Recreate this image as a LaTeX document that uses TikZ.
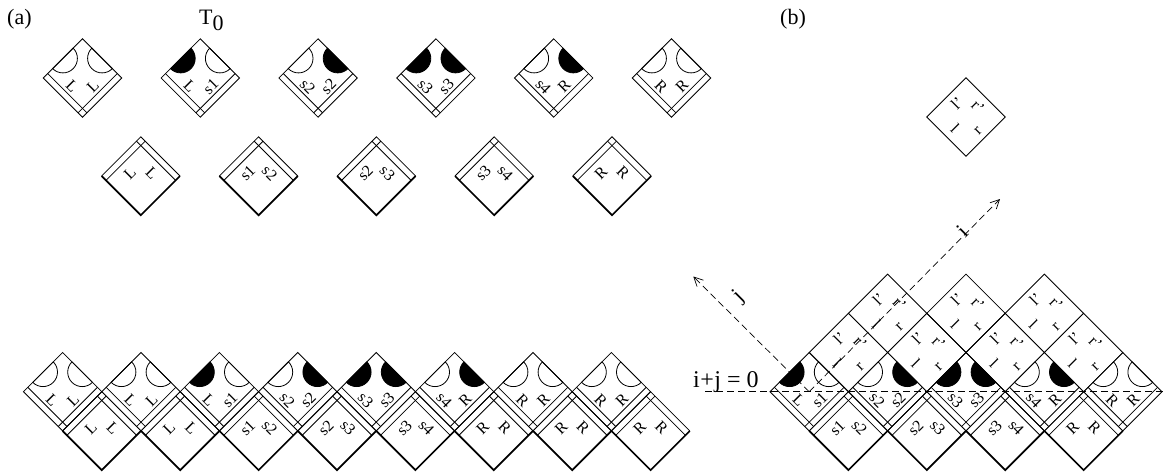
\documentclass[tikz,border=0pt]{standalone}
\usepackage{fontspec}
\setmainfont{Liberation Serif}
\usetikzlibrary{arrows.meta}
\newcommand{\halfd}{39.2}
\newcommand{\stripd}{4.4}
\newcommand{\semir}{14.5}
\tikzset{
  edge/.style={line width=0.8pt},
  thickedge/.style={line width=1.7pt},
  lab/.style={font=\fontsize{16}{16}\selectfont, inner sep=0pt},
  big/.style={font=\fontsize{22}{22}\selectfont, inner sep=0pt},
  axisline/.style={line width=0.7pt, dash pattern=on 7pt off 4pt},
}
% upper tile: cx cy leftfill rightfill leftlabel rightlabel
\newcommand{\utile}[6]{%
 \begin{scope}[shift={(#1,-#2)}]
  \filldraw[fill=#3,edge] ({-\halfd/2},{\halfd/2}) ++(45:\semir) arc[start angle=45,end angle=-135,radius=\semir] -- cycle;
  \filldraw[fill=#4,edge] ({\halfd/2},{\halfd/2}) ++(135:\semir) arc[start angle=135,end angle=315,radius=\semir] -- cycle;
  \draw[edge] (-\halfd,0) -- (0,\halfd) -- (\halfd,0) -- (0,-\halfd) -- cycle;
  \draw[edge] ({-\halfd+\stripd},\stripd) -- (\stripd,{-\halfd+\stripd});
  \draw[edge] (-\stripd,{-\halfd+\stripd}) -- ({\halfd-\stripd},\stripd);
  \node[lab,rotate=-45] at (-10.5,-8.5) {#5};
  \node[lab,rotate=45] at (10.5,-8.5) {#6};
 \end{scope}}
% lower tile: cx cy leftlabel rightlabel
\newcommand{\dtile}[4]{%
 \begin{scope}[shift={(#1,-#2)}]
  \draw[edge] (-\halfd,0) -- (0,\halfd) -- (\halfd,0);
  \draw[thickedge] (-\halfd,0) -- (0,-\halfd) -- (\halfd,0);
  \draw[edge] ({-\halfd+\stripd},-\stripd) -- (\stripd,{\halfd-\stripd});
  \draw[edge] (-\stripd,{\halfd-\stripd}) -- ({\halfd-\stripd},-\stripd);
  \node[lab,rotate=45] at (-11,3) {#3};
  \node[lab,rotate=-45] at (11,3) {#4};
 \end{scope}}
% plain tile: cx cy
\newcommand{\ptile}[2]{%
 \begin{scope}[shift={(#1,-#2)}]
  \draw[edge] (-\halfd,0) -- (0,\halfd) -- (\halfd,0) -- (0,-\halfd) -- cycle;
  \node[lab,rotate=45] at (-9,14) {l'};
  \node[lab,rotate=-45] at (12,10) {r'};
  \node[lab,rotate=-45] at (-11,-11) {l};
  \node[lab,rotate=45] at (12,-14) {r};
 \end{scope}}
\begin{document}
\begin{tikzpicture}[x=1pt,y=1pt]
\useasboundingbox (0,-474) rectangle (1167,0);
% labels
\node[big,anchor=base west] (la) at (7,-24) {(a)};
\node[big,anchor=base west] (lb) at (780,-24) {(b)};
\node[big,anchor=base west] (t0) at (199,-24) {T\raisebox{-6pt}{0}};
% (a) top row
\utile{82.5}{78}{white}{white}{L}{L}
\utile{200.3}{78}{black}{white}{L}{s1}
\utile{318.1}{78}{white}{black}{s2}{s2}
\utile{435.9}{78}{black}{black}{s3}{s3}
\utile{553.7}{78}{white}{black}{s4}{R}
\utile{671.5}{78}{white}{white}{R}{R}
% (a) second row
\dtile{140.8}{176}{L}{L}
\dtile{258.6}{176}{s1}{s2}
\dtile{376.4}{176}{s2}{s3}
\dtile{494.2}{176}{s3}{s4}
\dtile{612.0}{176}{R}{R}
% (a) bottom assembly
\utile{62.6}{391.7}{white}{white}{L}{L}
\utile{141.0}{391.7}{white}{white}{L}{L}
\utile{219.4}{391.7}{black}{white}{L}{s1}
\utile{297.8}{391.7}{white}{black}{s2}{s2}
\utile{376.2}{391.7}{black}{black}{s3}{s3}
\utile{454.6}{391.7}{white}{black}{s4}{R}
\utile{533.0}{391.7}{white}{white}{R}{R}
\utile{611.4}{391.7}{white}{white}{R}{R}
\dtile{101.8}{430.9}{L}{L}
\dtile{180.2}{430.9}{L}{L}
\dtile{258.6}{430.9}{s1}{s2}
\dtile{337.0}{430.9}{s2}{s3}
\dtile{415.4}{430.9}{s3}{s4}
\dtile{493.8}{430.9}{R}{R}
\dtile{572.2}{430.9}{R}{R}
\dtile{650.6}{430.9}{R}{R}
% (b)
\ptile{966}{117}
\ptile{848.4}{352.5}
\ptile{926.8}{352.5}
\ptile{1005.2}{352.5}
\ptile{1083.6}{352.5}
\ptile{887.6}{313.3}
\ptile{966.0}{313.3}
\ptile{1044.4}{313.3}
\utile{809.2}{391.7}{black}{white}{L}{s1}
\utile{887.6}{391.7}{white}{black}{s2}{s2}
\utile{966.0}{391.7}{black}{black}{s3}{s3}
\utile{1044.4}{391.7}{white}{black}{s4}{R}
\utile{1122.8}{391.7}{white}{white}{R}{R}
\dtile{848.4}{430.9}{s1}{s2}
\dtile{926.8}{430.9}{s2}{s3}
\dtile{1005.2}{430.9}{s3}{s4}
\dtile{1083.6}{430.9}{R}{R}
% axes
\coordinate (o) at (809.2,-391.7);
\coordinate (lend) at (705,-391.7);
\coordinate (rend) at (1167,-391.7);
\coordinate (jtip) at (693.3,-276.5);
\coordinate (itip) at (1000,-199);
\draw[axisline] (lend) -- (rend);
\draw[axisline,-{Straight Barb[length=9pt,width=9pt]}] (o) -- (jtip);
\draw[axisline,-{Straight Barb[length=9pt,width=9pt]}] (o) -- (itip);
\node[big,rotate=45] (jl) at (739,-297) {j};
\node[big,rotate=45] (il) at (962,-231) {i};
\node[big,anchor=base west,font=\fontsize{24}{24}\selectfont] (eq) at (693,-387) {i\kern0.5pt+\kern0.5pt j = 0};
\end{tikzpicture}
\end{document}
